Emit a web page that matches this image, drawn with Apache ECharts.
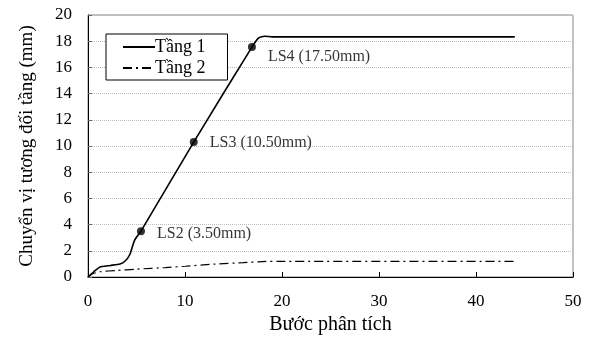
<!DOCTYPE html>
<html>
<head>
<meta charset="utf-8">
<script src="https://cdn.jsdelivr.net/npm/echarts@6/dist/echarts.min.js"></script>
<style>
  html, body { margin: 0; padding: 0; background: #fff; }
  #main { width: 594px; height: 340px; }
</style>
</head>
<body>
<div id="main"></div>
<script>
var chart = echarts.init(document.getElementById('main'));

// Tầng 1
var floor1 = [
    [0, 0], [0.6, 0.4], [1.2, 0.75], [2.3, 0.88], [3.3, 1.0], [3.8, 1.2],
    [4.3, 1.7], [4.8, 2.8], [5.46, 3.5], [10.9, 10.3], [16.9, 17.55],
    [17.6, 18.25], [18.2, 18.38], [19, 18.33], [25, 18.33], [44, 18.33]
];
// Tầng 2
var floor2 = [
    [0, 0], [0.5, 0.25], [1.2, 0.4], [3, 0.5], [5, 0.6], [8, 0.72],
    [10, 0.82], [13, 0.98], [16, 1.1], [18, 1.18], [20, 1.2], [44, 1.2]
];
var limitPoints = [[5.46, 3.5], [10.9, 10.3], [16.9, 17.55]];
var limitNames = ['LS2 (3.50mm)', 'LS3 (10.50mm)', 'LS4 (17.50mm)'];

var font = 'Liberation Serif';
// label shifts (px) so the text sits like in the original
var labelShift = [[0, 3], [0, 1], [0, 10]];

var lsData = limitPoints.map(function (p, i) {
    return { value: p, label: { offset: labelShift[i] } };
});

option = {
    animation: false,
    grid: { left: 88, right: 21, top: 15, bottom: 62, show: true, borderColor: '#888', borderWidth: 1 },
    legend: {
        orient: 'vertical',
        left: 106,
        top: 34,
        data: ['Tầng 1', 'Tầng 2'],
        backgroundColor: '#fff',
        borderColor: '#000',
        borderWidth: 1,
        borderRadius: 0,
        padding: [4, 22, 3, 16],
        itemGap: 3,
        itemWidth: 32,
        itemHeight: 16,
        itemStyle: { opacity: 0 },
        textStyle: { fontFamily: font, fontSize: 18, color: '#000', padding: [0, 0, 0, -5] }
    },
    xAxis: {
        type: 'value',
        min: 0, max: 50, interval: 10,
        name: 'Bước phân tích',
        nameLocation: 'middle',
        nameGap: 38,
        nameTextStyle: { fontFamily: font, fontSize: 20, color: '#000' },
        axisLine: { lineStyle: { color: '#000' } },
        axisTick: { inside: true, length: 5, lineStyle: { color: '#000' } },
        axisLabel: { fontFamily: font, fontSize: 17, color: '#000', margin: 16 },
        splitLine: { show: false }
    },
    yAxis: {
        type: 'value',
        min: 0, max: 20, interval: 2,
        name: 'Chuyển vị tương đối tầng (mm)',
        nameLocation: 'middle',
        nameGap: 51,
        nameTextStyle: { fontFamily: font, fontSize: 19, color: '#000' },
        axisLine: { show: true, lineStyle: { color: '#000' } },
        axisTick: { show: true, inside: true, length: 4, lineStyle: { color: '#666' } },
        axisLabel: { fontFamily: font, fontSize: 17, color: '#000', margin: 16 },
        splitLine: { lineStyle: { color: '#bbb', type: 'dotted' } }
    },
    series: [{
        name: 'Tầng 1',
        type: 'line',
        data: floor1,
        smooth: 0.2,
        symbol: 'none',
        lineStyle: { color: '#000', width: 1.6 },
        itemStyle: { color: '#000' }
    }, {
        name: 'Tầng 2',
        type: 'line',
        data: floor2,
        smooth: 0.2,
        symbol: 'none',
        lineStyle: { color: '#000', width: 1.2, type: [9, 4, 2, 4] },
        itemStyle: { color: '#000' }
    }, {
        name: 'LS',
        type: 'scatter',
        data: lsData,
        symbolSize: 8,
        itemStyle: { color: '#000' },
        label: {
            show: true,
            position: 'right',
            distance: 12,
            fontFamily: font,
            fontSize: 16,
            color: '#000',
            formatter: function (p) { return limitNames[p.dataIndex]; }
        }
    }]
};
chart.setOption(option);
</script>
</body>
</html>
